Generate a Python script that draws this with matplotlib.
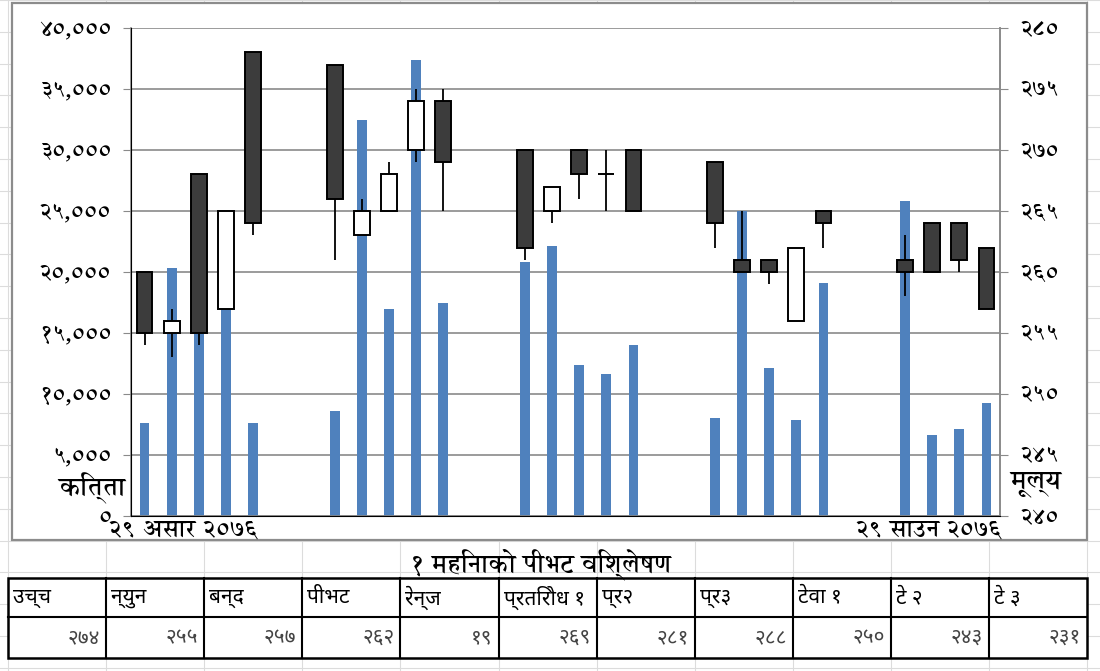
import matplotlib
matplotlib.use('Agg')
import matplotlib.pyplot as plt
from matplotlib import font_manager
from matplotlib.patches import Rectangle
from matplotlib.lines import Line2D

have = {f.name for f in font_manager.fontManager.ttflist}


def pick(names):
    for n in names:
        if n in have:
            return [n, 'DejaVu Sans']
    return ['DejaVu Sans']


# serif-like bold face for the chart, plain sans face for the table
chart_font = pick(['Annapurna SIL', 'FreeSerif', 'Arya', 'Amita'])
table_font = pick(['Noto Sans Devanagari', 'Hind', 'Mukta', 'Ek Mukta', 'FreeSans'])
plt.rcParams['font.family'] = chart_font

# trading days as day offsets from 29 Asar 2076 (gaps = weekend)
days = [0, 1, 2, 3, 4, 7, 8, 9, 10, 11, 14, 15, 16, 17, 18,
        21, 22, 23, 24, 25, 28, 29, 30, 31]
volume = [7600, 20300, 21000, 17500, 7600, 8600, 32500, 17000, 37400, 17500,
          20800, 22100, 12400, 11600, 14000, 8000, 25000, 12100, 7900, 19100,
          25800, 6600, 7100, 9300]
open_ = [260, 255, 268, 257, 278, 277, 263, 265, 270, 274, 270, 265, 270, 268, 270,
         269, 261, 261, 256, 265, 261, 264, 264, 262]
high = [260, 257, 268, 265, 278, 277, 266, 269, 275, 275, 270, 267, 270, 270, 270,
        269, 265, 261, 262, 265, 263, 264, 264, 262]
low = [254, 253, 254, 257, 263, 261, 263, 265, 269, 265, 261, 264, 266, 265, 265,
       262, 260, 259, 256, 262, 258, 260, 260, 257]
close = [255, 256, 255, 265, 264, 266, 265, 268, 274, 269, 262, 267, 268, 268, 265,
         264, 260, 260, 262, 264, 260, 260, 261, 257]

vol_ticks = [0, 5000, 10000, 15000, 20000, 25000, 30000, 35000, 40000]
vol_labels = ['०', '५,०००', '१०,०००', '१५,०००', '२०,०००', '२५,०००', '३०,०००', '३५,०००', '४०,०००']
price_ticks = [240, 245, 250, 255, 260, 265, 270, 275, 280]
price_labels = ['२४०', '२४५', '२५०', '२५५', '२६०', '२६५', '२७०', '२७५', '२८०']
date_first = '२९ असार २०७६'
date_last = '२९ साउन २०७६'

table_title = '१ महिनाको पीभट विश्लेषण'
table_head = ['उच्च', 'न्युन', 'बन्द', 'पीभट', 'रेन्ज', 'प्रतिरोध १', 'प्र२', 'प्र३', 'टेवा १', 'टे २', 'टे ३']
table_vals = ['२७४', '२५५', '२५७', '२६२', '१९', '२६९', '२८१', '२८८', '२५०', '२४३', '२३१']

W, H = 1100, 671
fig = plt.figure(figsize=(W / 100, H / 100), dpi=100)


def fx(px):
    return px / W


def fy(py):
    return 1 - py / H


# faint spreadsheet grid behind everything
col_edges = [8 + i * 98.1 for i in range(12)]
for x in col_edges:
    fig.add_artist(Line2D([fx(x), fx(x)], [0, 1], color='#dcdcdc', lw=0.8, zorder=0))
for k in range(22):
    y = k * 31.8
    fig.add_artist(Line2D([0, 1], [fy(y), fy(y)], color='#dcdcdc', lw=0.8, zorder=0))

# chart box
fig.add_artist(Rectangle((fx(12), fy(540)), fx(1087) - fx(12), fy(3) - fy(540),
                         facecolor='white', edgecolor='#8c8c8c', lw=1.6, zorder=1))

ax = fig.add_axes([fx(131), fy(516), fx(1000) - fx(131), fy(28) - fy(516)], zorder=2)
ax.patch.set_visible(False)
ax.bar(days, volume, width=0.36, color='#4F81BD', zorder=2)
ax.set_xlim(-0.5, 31.5)
ax.set_ylim(0, 40000)
ax.set_yticks(vol_ticks)
ax.set_yticklabels(vol_labels, fontsize=16, fontweight='bold')
ax.yaxis.grid(True, color='#8a8a8a', lw=1.2)
ax.set_axisbelow(True)
ax.set_xticks([])
ax.tick_params(axis='y', length=6, color='#8a8a8a', pad=8)
ax.spines['top'].set_visible(False)
for s in ['left', 'right', 'bottom']:
    ax.spines[s].set_color('#8a8a8a')
    ax.spines[s].set_linewidth(1.2)

ax2 = ax.twinx()
ax2.set_ylim(240, 280)
ax2.set_yticks(price_ticks)
ax2.set_yticklabels(price_labels, fontsize=16, fontweight='bold')
ax2.tick_params(axis='y', length=6, color='#8a8a8a', pad=8)
ax2.spines['top'].set_visible(False)
ax2.spines['right'].set_color('#8a8a8a')
ax2.spines['right'].set_linewidth(1.2)

ax2.vlines(days, low, high, color='black', lw=1.3, zorder=3)
bottoms = [min(o, c) for o, c in zip(open_, close)]
heights = [abs(c - o) for o, c in zip(open_, close)]
colors = ['white' if c >= o else '#3c3c3c' for o, c in zip(open_, close)]
ax2.bar(days, heights, bottom=bottoms, width=0.58, color=colors,
        edgecolor='black', lw=1.4, zorder=4)

# axis titles and the two date labels
fig.text(fx(92), fy(488), 'कित्ता', fontsize=19, fontweight='bold', ha='center', va='center')
fig.text(fx(1036), fy(484), 'मूल्य', fontsize=19, fontweight='bold', ha='center', va='center')
fig.text(fx(183), fy(531), date_first, fontsize=17, fontweight='bold', ha='center', va='center')
fig.text(fx(928), fy(531), date_last, fontsize=17, fontweight='bold', ha='center', va='center')

# table below the chart
fig.text(fx(540), fy(564), table_title, fontsize=18, fontweight='bold', ha='center', va='center')
t_top, t_mid, t_bot = 578, 617, 658
fig.add_artist(Rectangle((fx(col_edges[0]), fy(t_bot)), fx(col_edges[-1]) - fx(col_edges[0]),
                         fy(t_top) - fy(t_bot), facecolor='white', edgecolor='black', lw=1.8, zorder=2))
fig.add_artist(Line2D([fx(col_edges[0]), fx(col_edges[-1])], [fy(t_mid), fy(t_mid)],
                      color='black', lw=1.5, zorder=3))
for x in col_edges[1:-1]:
    fig.add_artist(Line2D([fx(x), fx(x)], [fy(t_top), fy(t_bot)], color='black', lw=1.5, zorder=3))
for i, (h, v) in enumerate(zip(table_head, table_vals)):
    fig.text(fx(col_edges[i] + 5), fy((t_top + t_mid) / 2), h, fontsize=15, family=table_font,
             ha='left', va='center', zorder=4)
    fig.text(fx(col_edges[i + 1] - 6), fy((t_mid + t_bot) / 2), v, fontsize=15, family=table_font,
             color='#444444', ha='right', va='center', zorder=4)

fig.savefig('out.png', dpi=100)
